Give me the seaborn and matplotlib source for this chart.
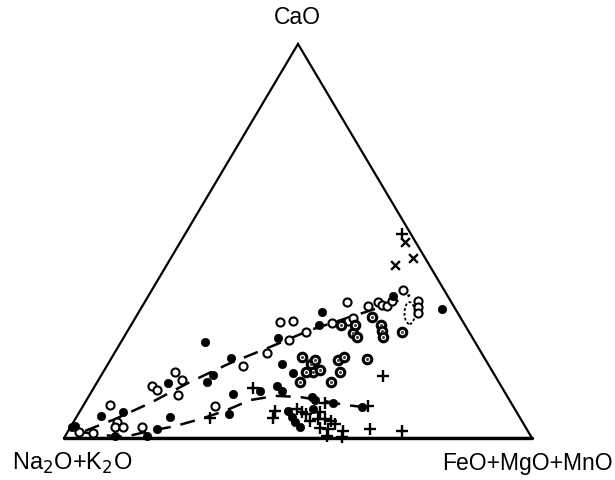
import numpy as np
import pandas as pd
import matplotlib
matplotlib.use("Agg")
import matplotlib.pyplot as plt
import seaborn as sns
from matplotlib.patches import Ellipse

sns.set_theme(style="white")
plt.rcParams['font.family'] = ['Liberation Sans', 'DejaVu Sans']

# Ternary data (percent): CaO and FeO+MgO+MnO; Na2O+K2O = 100 - both
filled_cao = [32.7, 36.0, 32.0, 28.7, 25.4, 18.8, 16.5, 20.3, 16.0, 14.2, 24.4, 14.0, 11.2, 11.9,
              13.2, 11.9, 10.4, 9.6, 8.9, 7.9, 6.1, 6.9, 5.3, 7.4, 4.1, 2.8, 5.6, 6.6, 5.3, 2.3,
              0.5, 0.5, 2.8, 3.0]
filled_fmm = [64.4, 52.3, 39.1, 40.2, 33.0, 37.2, 40.7, 25.5, 23.8, 23.5, 17.9, 15.2, 30.5, 35.9,
              38.9, 40.6, 47.8, 48.8, 53.0, 59.7, 32.2, 44.4, 46.1, 49.5, 47.3, 49.0, 5.1, 9.3, 20.0, 18.7,
              17.5, 10.6, 0.3, 0.9]

open_cao = [34.5, 29.4, 29.7, 24.9, 21.6, 26.9, 29.2, 29.7, 30.5, 33.5, 34.5, 33.8, 33.5, 34.8,
            37.6, 34.8, 33.2, 31.7, 18.3, 16.8, 14.7, 10.9, 13.2, 12.2, 8.1, 8.4, 4.1, 2.8, 2.8,
            2.8, 1.5, 1.3]
open_fmm = [43.2, 31.5, 34.1, 35.6, 32.6, 38.3, 42.7, 45.9, 46.5, 48.2, 49.9, 51.1, 52.3, 52.7,
            53.6, 58.2, 59.0, 59.8, 29.2, 15.3, 17.9, 18.9, 12.2, 13.8, 28.2, 5.6, 9.3, 9.5, 11.2,
            15.3, 2.5, 5.6]

dotted_cao = [28.7, 26.6, 25.6, 28.7, 30.7, 28.7, 27.2, 25.6, 26.9, 20.6, 18.8, 19.8, 16.8, 17.3,
              16.8, 19.8, 20.6, 16.8, 20.1, 14.2, 14.2]
dotted_fmm = [44.8, 48.5, 49.8, 47.8, 50.5, 53.4, 54.4, 55.4, 58.8, 40.6, 43.4, 43.7, 44.8, 46.1,
              43.3, 48.7, 49.5, 50.6, 54.8, 50.0, 43.3]

plus_cao = [51.8, 15.7, 12.7, 8.9, 8.1, 5.1, 6.9, 5.1, 7.4, 6.1, 6.6, 4.3, 4.8, 4.8, 2.5, 2.3,
            3.6, 0.5, 1.8, 0.3, 2.3, 1.8, 6.6, 4.3]
plus_fmm = [46.3, 60.3, 34.0, 51.3, 60.9, 28.7, 41.6, 42.1, 46.1, 48.7, 51.4, 50.4, 51.9, 53.4,
            53.5, 55.3, 56.1, 56.0, 58.7, 59.3, 64.3, 71.3, 47.5, 55.0]

cross_cao = [49.7, 45.7, 43.9]
cross_fmm = [48.0, 51.7, 48.8]

upper_cao = [1.8, 4.8, 8.9, 14.2, 19.0, 23.1, 27.4, 30.7, 34.0, 36.3]
upper_fmm = [3.6, 8.5, 14.0, 19.8, 26.0, 32.5, 38.9, 45.8, 52.7, 55.8]

lower_cao = [1.5, 0.8, 0.3, 1.8, 3.0, 4.8, 6.9, 9.6, 10.7, 10.4, 9.6, 8.4, 7.9]
lower_fmm = [3.1, 7.3, 12.9, 17.5, 22.2, 26.7, 31.0, 34.9, 39.8, 45.2, 49.9, 55.8, 59.7]

ellipse_cao, ellipse_fmm = 31.7, 58.0

apex_label = "CaO"
left_label = "Na$_2$O+K$_2$O"
right_label = "FeO+MgO+MnO"

H = np.sqrt(3) / 2


def to_xy(cao, fmm):
    c = np.asarray(cao, float) / 100.0
    f = np.asarray(fmm, float) / 100.0
    return f + c / 2.0, c * H


def frame(cao, fmm, kind):
    x, y = to_xy(cao, fmm)
    return pd.DataFrame({"x": x, "y": y, "kind": kind})


fig = plt.figure(figsize=(6.15, 4.81), dpi=100)
ax = fig.add_axes([0, 0, 1, 1])
ax.set_xlim(-0.1368, 1.1774)
ax.set_ylim(-0.0923, 0.9648)
ax.set_aspect("auto")
ax.axis("off")

# triangle
tri = pd.DataFrame({"x": [0, 1, 0.5, 0], "y": [0, 0, H, 0]})
ax.plot(tri["x"], tri["y"], color="black", lw=1.6, solid_joinstyle="miter")
ax.plot([0, 1], [0, 0], color="black", lw=2.4)

# dashed trend curves
up = frame(upper_cao, upper_fmm, "upper")
lo = frame(lower_cao, lower_fmm, "lower")
for d in (up, lo):
    sns.lineplot(data=d, x="x", y="y", sort=False, estimator=None, ax=ax,
                 color="black", lw=1.8, dashes=False, linestyle=(0, (6, 4)))

# points
df_f = frame(filled_cao, filled_fmm, "filled")
df_o = frame(open_cao, open_fmm, "open")
df_d = frame(dotted_cao, dotted_fmm, "dotted")
df_p = frame(plus_cao, plus_fmm, "plus")
df_x = frame(cross_cao, cross_fmm, "cross")

sns.scatterplot(data=df_o, x="x", y="y", ax=ax, marker="o", s=34,
                facecolor="white", edgecolor="black", linewidth=1.5, zorder=3)
sns.scatterplot(data=df_d, x="x", y="y", ax=ax, marker="o", s=38,
                facecolor="white", edgecolor="black", linewidth=2.2, zorder=3)
sns.scatterplot(data=df_d, x="x", y="y", ax=ax, marker="o", s=5,
                color="#444444", linewidth=0, zorder=4)
sns.scatterplot(data=df_f, x="x", y="y", ax=ax, marker="o", s=36,
                color="black", edgecolor="black", linewidth=0.5, zorder=3)
sns.scatterplot(data=df_p, x="x", y="y", ax=ax, marker="+", s=80,
                color="black", linewidth=1.7, zorder=3)
sns.scatterplot(data=df_x, x="x", y="y", ax=ax, marker="x", s=40,
                color="black", linewidth=1.7, zorder=3)

ex, ey = to_xy([ellipse_cao], [ellipse_fmm])
ax.add_patch(Ellipse((ex[0], ey[0]), 0.022, 0.048, fill=False, edgecolor="black",
                     lw=1.3, linestyle=(0, (1.5, 1.2)), zorder=3))

# labels
ax.text(0.498, 0.927, apex_label, ha="center", va="center", fontsize=16.5, color="black")
ax.text(0.017, -0.054, left_label, ha="center", va="center", fontsize=17, color="black")
ax.text(0.990, -0.054, right_label, ha="center", va="center", fontsize=16.5, color="black")

fig.savefig("out.png", dpi=100)
